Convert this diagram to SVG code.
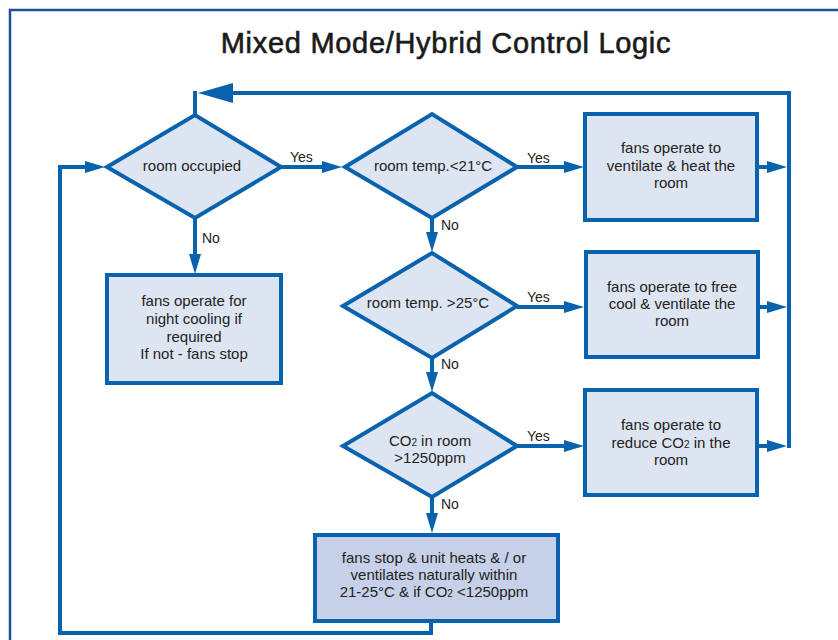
<svg xmlns="http://www.w3.org/2000/svg" width="838" height="640" viewBox="0 0 838 640">
<style>
.frame{fill:none;stroke:#1c4f9c;stroke-width:2.5}
.shape{fill:#dee5f2;stroke:#0862ad;stroke-width:4}
.dark{fill:#c6d0e8}
.conn{fill:none;stroke:#0862ad;stroke-width:4}
text{font-family:"Liberation Sans",Arial,sans-serif;fill:#222;}
.t{font-size:15px;text-anchor:middle}
.lbl{font-size:14px}
.title{font-size:29px;text-anchor:middle;letter-spacing:0.7px;fill:#1a1a1a;stroke:#1a1a1a;stroke-width:0.6px}
</style>
<defs>
<marker id="ah" viewBox="0 0 20 12" markerWidth="20" markerHeight="12" refX="1" refY="6" orient="auto" markerUnits="userSpaceOnUse">
<path d="M0,0 L20,6 L0,12 Z" fill="#0862ad"/>
</marker>
<marker id="big" viewBox="0 0 35 20" markerWidth="35" markerHeight="20" refX="1" refY="10" orient="auto" markerUnits="userSpaceOnUse">
<path d="M0,0 L35,10 L0,20 Z" fill="#0862ad"/>
</marker>
</defs>
<rect width="838" height="640" fill="#fff"/>
<path class="frame" d="M10,640 V10 H838"/>
<text class="title" x="446" y="53">Mixed Mode/Hybrid Control Logic</text>

<g id="connectors">
<path class="conn" d="M281,167 H323" marker-end="url(#ah)"/>
<path class="conn" d="M517,167 H565" marker-end="url(#ah)"/>
<path class="conn" d="M757,167 H768" marker-end="url(#ah)"/>
<path class="conn" d="M195,218 V255" marker-end="url(#ah)"/>
<path class="conn" d="M432,218 V233" marker-end="url(#ah)"/>
<path class="conn" d="M517,307 H565" marker-end="url(#ah)"/>
<path class="conn" d="M758,307 H768" marker-end="url(#ah)"/>
<path class="conn" d="M432,358 V373" marker-end="url(#ah)"/>
<path class="conn" d="M517,446 H565" marker-end="url(#ah)"/>
<path class="conn" d="M757,446 H768" marker-end="url(#ah)"/>
<path class="conn" d="M432,497 V514" marker-end="url(#ah)"/>
<path class="conn" d="M789,448 V93 H232" marker-end="url(#big)"/>
<path class="conn" d="M195,115 V91"/>
<path class="conn" d="M431,621 V633 H60 V167 H86" marker-end="url(#ah)"/>
<text class="lbl" x="290" y="162">Yes</text>
<text class="lbl" x="527" y="163">Yes</text>
<text class="lbl" x="527" y="302">Yes</text>
<text class="lbl" x="527" y="441">Yes</text>
<text class="lbl" x="202" y="243">No</text>
<text class="lbl" x="441" y="230">No</text>
<text class="lbl" x="441" y="369">No</text>
<text class="lbl" x="441" y="509">No</text>
</g>

<g id="d1">
<polygon class="shape" points="107,167 195,115 281,167 195,218"/>
<text class="t" x="192" y="171">room occupied</text>
</g>
<g id="d2">
<polygon class="shape" points="345,167 432,114 517,167 432,218"/>
<text class="t" x="433" y="171">room temp.&lt;21°C</text>
</g>
<g id="d3">
<polygon class="shape" points="343,306 432,253 517,306 432,358"/>
<text class="t" x="428" y="308">room temp. &gt;25°C</text>
</g>
<g id="d4">
<polygon class="shape" points="343,446 432,393 517,446 432,497"/>
<text class="t" x="430" y="446">CO<tspan font-size="10">2</tspan> in room</text>
<text class="t" x="430" y="463">&gt;1250ppm</text>
</g>
<g id="b1">
<rect class="shape" x="585" y="114" width="172" height="106"/>
<text class="t" x="671" y="153">fans operate to</text>
<text class="t" x="671" y="170.5">ventilate &amp; heat the</text>
<text class="t" x="671" y="188">room</text>
</g>
<g id="b2">
<rect class="shape" x="586" y="252" width="172" height="105"/>
<text class="t" x="672" y="292">fans operate to free</text>
<text class="t" x="672" y="309">cool &amp; ventilate the</text>
<text class="t" x="672" y="326">room</text>
</g>
<g id="b3">
<rect class="shape" x="585" y="390" width="172" height="105"/>
<text class="t" x="671" y="430">fans operate to</text>
<text class="t" x="671" y="448">reduce CO<tspan font-size="10">2</tspan> in the</text>
<text class="t" x="671" y="465">room</text>
</g>
<g id="night">
<rect class="shape" x="107" y="275" width="174" height="108"/>
<text class="t" x="194" y="306">fans operate for</text>
<text class="t" x="194" y="324">night cooling if</text>
<text class="t" x="194" y="342">required</text>
<text class="t" x="194" y="359">If not - fans stop</text>
</g>
<g id="b4">
<rect class="shape dark" x="315" y="535" width="243" height="86"/>
<text class="t" x="434" y="563">fans stop &amp; unit heats &amp; / or</text>
<text class="t" x="434" y="580">ventilates naturally within</text>
<text class="t" x="434" y="597">21-25°C &amp; if CO<tspan font-size="10">2</tspan> &lt;1250ppm</text>
</g>
</svg>
